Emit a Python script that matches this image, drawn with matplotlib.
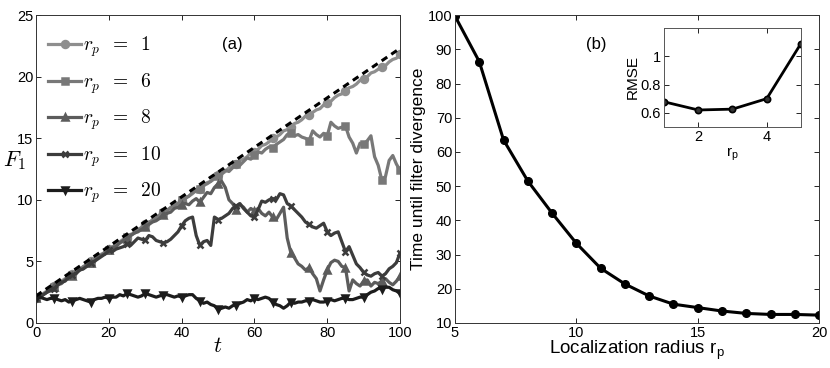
import numpy as np
import matplotlib

matplotlib.use("Agg")
import matplotlib.pyplot as plt

plt.rcParams["font.family"] = ["Liberation Sans", "DejaVu Sans"]
plt.rcParams["mathtext.fontset"] = "cm"

# panel (a): F_1 against t for several localization radii
radii_a = [1, 6, 8, 10, 20]
f1_rp1 = [
    2.0, 2.1, 2.4, 2.6, 2.7, 3.0, 3.1, 3.4, 3.6, 3.7,
    4.0, 4.3, 4.4, 4.5, 4.8, 5.0, 5.1, 5.4, 5.6, 5.7,
    6.0, 6.2, 6.3, 6.6, 6.8, 6.9, 7.2, 7.3, 7.5, 7.8,
    8.0, 8.1, 8.4, 8.5, 8.7, 9.0, 9.2, 9.3, 9.6, 9.7,
    9.9, 10.2, 10.3, 10.5, 10.8, 10.9, 11.1, 11.4, 11.5, 11.7,
    12.0, 12.1, 12.3, 12.6, 12.7, 12.9, 13.2, 13.3, 13.5, 13.8,
    13.9, 14.1, 14.4, 14.5, 14.7, 15.0, 15.1, 15.3, 15.6, 15.7,
    15.9, 16.2, 16.3, 16.5, 16.8, 16.9, 17.1, 17.3, 17.4, 17.7,
    17.9, 18.0, 18.3, 18.5, 18.6, 18.8, 19.1, 19.2, 19.4, 19.7,
    19.8, 20.0, 20.3, 20.4, 20.6, 20.8, 20.9, 21.2, 21.4, 21.5,
    21.8,
]
f1_rp6 = [
    2.0, 2.1, 2.3, 2.5, 2.8, 2.9, 3.2, 3.3, 3.5, 3.8,
    3.9, 4.2, 4.3, 4.6, 4.7, 4.9, 5.2, 5.3, 5.5, 5.8,
    5.9, 6.1, 6.4, 6.5, 6.7, 7.0, 7.1, 7.3, 7.6, 7.7,
    7.9, 8.2, 8.3, 8.5, 8.8, 8.9, 9.1, 9.4, 9.5, 9.7,
    10.0, 10.1, 10.3, 10.6, 10.7, 10.9, 11.2, 11.3, 11.5, 11.8,
    11.9, 12.1, 12.4, 12.3, 12.6, 12.9, 12.8, 13.1, 13.4, 13.3,
    13.6, 13.9, 13.8, 14.1, 14.3, 14.2, 14.5, 14.7, 14.9, 15.3,
    15.4, 15.2, 15.3, 15.1, 15.0, 14.8, 15.6, 15.3, 15.1, 15.4,
    15.2, 16.3, 16.0, 15.8, 15.9, 16.0, 15.1, 14.6, 13.8, 14.6,
    14.5, 14.8, 15.2, 13.5, 12.8, 11.6, 11.9, 13.2, 13.6, 12.9,
    12.4,
]
f1_rp8 = [
    2.0, 2.1, 2.3, 2.5, 2.6, 2.9, 3.1, 3.2, 3.5, 3.7,
    3.8, 4.1, 4.3, 4.4, 4.7, 4.9, 5.0, 5.3, 5.5, 5.6,
    5.9, 6.1, 6.2, 6.5, 6.7, 6.8, 7.1, 7.3, 7.4, 7.6,
    7.8, 8.0, 8.2, 8.3, 8.5, 8.8, 8.9, 9.0, 9.3, 9.4,
    9.6, 9.7, 9.6, 9.9, 10.1, 9.8, 10.2, 10.6, 10.5, 11.0,
    11.3, 11.5, 11.0, 10.0, 9.7, 9.2, 9.6, 9.4, 9.0, 9.3,
    9.1, 9.3, 8.9, 8.7, 9.0, 8.6, 8.4, 8.9, 9.4, 6.9,
    5.7, 5.3, 4.8, 4.6, 4.3, 4.5, 4.0, 3.6, 2.6, 3.5,
    4.3, 4.9, 5.1, 5.0, 4.6, 4.5, 2.6, 3.5, 3.2, 3.0,
    3.4, 3.5, 3.0, 3.3, 3.2, 3.4, 3.6, 3.3, 3.1, 3.4,
    3.8,
]
f1_rp10 = [
    2.0, 2.1, 2.3, 2.5, 2.7, 2.8, 3.1, 3.3, 3.4, 3.7,
    3.9, 4.0, 4.3, 4.4, 4.6, 4.9, 5.0, 5.2, 5.4, 5.6,
    5.9, 5.8, 6.0, 6.1, 6.2, 6.4, 6.3, 6.6, 6.9, 6.8,
    6.7, 7.1, 7.0, 6.7, 6.6, 6.5, 6.6, 6.8, 7.1, 7.4,
    7.9, 8.3, 8.5, 8.6, 7.1, 6.3, 6.6, 6.7, 6.3, 8.6,
    8.4, 8.5, 8.7, 8.9, 9.3, 9.5, 9.7, 9.3, 9.0, 8.7,
    8.6, 9.2, 9.9, 9.8, 10.0, 10.1, 10.0, 10.5, 10.4, 9.7,
    9.5, 9.2, 8.9, 8.6, 8.2, 8.0, 7.8, 7.7, 7.9, 8.1,
    7.4, 7.1, 7.3, 7.4, 6.6, 5.8, 6.2, 5.5, 4.8, 4.5,
    4.1, 3.9, 3.8, 4.0, 4.1, 3.8, 4.0, 4.4, 4.6, 4.9,
    5.7,
]
f1_rp20 = [
    2.0, 2.1, 2.0, 1.9, 2.0, 2.0, 1.9, 1.8, 1.9, 1.7,
    1.8, 1.9, 2.0, 1.9, 1.8, 1.7, 1.9, 2.0, 2.0, 2.1,
    2.0, 2.1, 2.1, 2.3, 2.2, 2.4, 2.3, 2.2, 2.1, 2.2,
    2.4, 2.3, 2.2, 2.1, 2.2, 2.3, 2.3, 2.2, 2.1, 2.2,
    2.1, 2.2, 2.3, 2.3, 2.0, 1.8, 1.6, 1.7, 1.5, 1.4,
    1.1, 1.2, 1.3, 1.2, 1.4, 1.5, 1.6, 1.7, 1.9, 1.8,
    2.0, 1.9, 2.0, 2.1, 2.0, 1.7, 1.5, 1.4, 1.2, 1.4,
    1.7, 1.6, 1.7, 1.7, 1.8, 1.8, 1.9, 1.8, 1.7, 1.7,
    1.8, 1.9, 1.8, 1.9, 2.0, 2.0, 1.9, 1.9, 2.0, 2.1,
    2.1, 2.3, 2.5, 2.6, 2.8, 2.8, 2.9, 2.9, 2.7, 2.6,
    2.4,
]
truth_t = [0, 100]
truth_f1 = [2.2, 22.3]

# panel (b): time until divergence vs localization radius
radius_b = [5, 6, 7, 8, 9, 10, 11, 12, 13, 14, 15, 16, 17, 18, 19, 20]
time_div = [99.7, 86.4, 63.5, 51.5, 42.1, 33.3, 26.0, 21.4, 17.9, 15.5,
            14.5, 13.5, 12.8, 12.5, 12.5, 12.3]

# inset: RMSE vs small radii
radius_inset = [1, 2, 3, 4, 5]
rmse = [0.678, 0.62, 0.626, 0.70, 1.09]

series = [f1_rp1, f1_rp6, f1_rp8, f1_rp10, f1_rp20]
colors = ["#8e8e8e", "#787878", "#5c5c5c", "#3c3c3c", "#1c1c1c"]
markers = ["o", "s", "^", "x", "v"]


def style_axes(ax, size=10.5, edge="#333333"):
    ax.tick_params(direction="in", top=True, right=True, labelsize=size,
                   length=3.5, width=0.6, pad=2)
    for sp in ax.spines.values():
        sp.set_linewidth(0.7)
        sp.set_color(edge)


fig = plt.figure(figsize=(8.3, 3.68), dpi=100)
ax1 = fig.add_axes([0.0434, 0.1223, 0.4386, 0.8367])
ax2 = fig.add_axes([0.5482, 0.1223, 0.4386, 0.8367])
ax3 = fig.add_axes([0.8, 0.655, 0.165, 0.269])

for y, r, c, m in zip(series, radii_a, colors, markers):
    ax1.plot(np.arange(len(y)), y, color=c, lw=2.3, marker=m, markevery=5,
             ms=5, mew=1.8, label=rf"$r_p\;\;=\;\;{r}$")
ax1.plot(truth_t, truth_f1, "k--", lw=2.2, dashes=(2.2, 1.6))
ax1.set_xlim(0, 100)
ax1.set_ylim(0, 25)
ax1.set_xticks(range(0, 101, 20))
ax1.set_yticks(range(0, 26, 5))
ax1.set_xlabel(r"$t$", fontsize=16, labelpad=-3)
ax1.set_ylabel(r"$F_1$", fontsize=16, rotation=0)
ax1.yaxis.set_label_coords(-0.058, 0.49)
ax1.text(0.51, 0.89, "(a)", transform=ax1.transAxes, fontsize=12)
ax1.legend(loc="upper left", frameon=False, fontsize=14, handlelength=1.7,
           handletextpad=0.1, labelspacing=0.62, borderaxespad=0.0,
           borderpad=0.4, bbox_to_anchor=(0.012, 0.962))
style_axes(ax1)

ax2.plot(radius_b, time_div, "k-", lw=2.2, marker="o", ms=5.5)
ax2.set_xlim(5, 20)
ax2.set_ylim(10, 100)
ax2.set_xticks([5, 10, 15, 20])
ax2.set_yticks(range(10, 101, 10))
ax2.set_xlabel(r"Localization radius r$_\mathregular{p}$", fontsize=13.5,
               labelpad=-1)
ax2.set_ylabel("Time until filter divergence", fontsize=12.5, labelpad=1)
ax2.text(0.36, 0.89, "(b)", transform=ax2.transAxes, fontsize=12)
style_axes(ax2)

ax3.plot(radius_inset, rmse, "k-", lw=2.0, marker="o", ms=4.5,
         mfc="#333333", mew=1.2)
ax3.set_xlim(1, 5)
ax3.set_ylim(0.5, 1.2)
ax3.set_xticks([2, 4])
ax3.set_yticks([0.6, 0.8, 1.0])
ax3.set_yticklabels(["0.6", "0.8", "1"])
ax3.set_ylabel("RMSE", fontsize=11, labelpad=1)
ax3.set_xlabel(r"r$_\mathregular{p}$", fontsize=11, labelpad=1)
style_axes(ax3, size=10.5, edge="#555555")

fig.savefig("out.png", dpi=100)
